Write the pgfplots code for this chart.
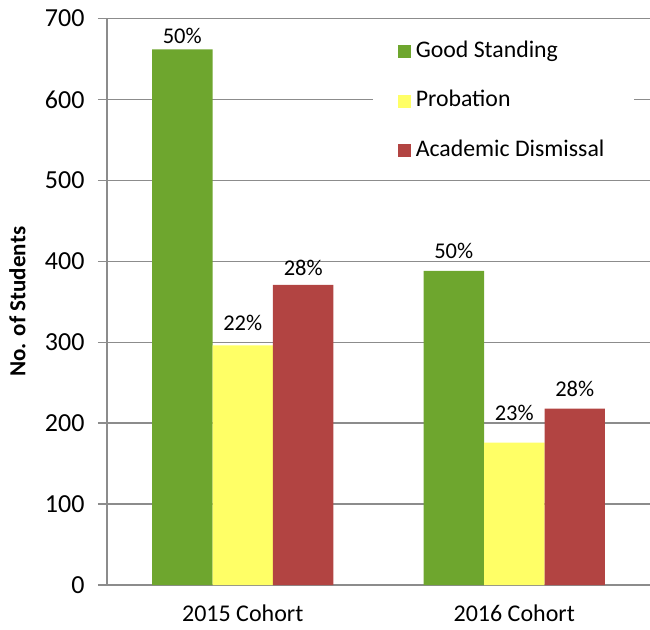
\documentclass[border=0pt]{standalone}
\usepackage{fontspec}
\setmainfont{Carlito}
\usepackage{pgfplots}
\pgfplotsset{compat=1.18}
\definecolor{cgreen}{HTML}{6EA62E}
\definecolor{cyellow}{HTML}{FFFF66}
\definecolor{cred}{HTML}{B24442}
\definecolor{cgrid}{HTML}{8C8C8C}
\begin{document}
\begin{tikzpicture}[x=1pt,y=1pt]
\useasboundingbox (-107,-44) rectangle (543,585);
\begin{axis}[
  at={(0,0)}, anchor=south west,
  scale only axis, width=543pt, height=566.5pt,
  ymin=0, ymax=700, ytick={0,100,...,700},
  xmin=-0.5, xmax=1.5, xtick={0,1}, xticklabels={2015 Cohort,2016 Cohort},
  ybar, bar width=0.2228,
  axis x line*=bottom, axis y line*=left,
  axis line style={cgrid, line width=1.3pt},
  ymajorgrids, grid style={cgrid, line width=1.3pt},
  tick align=outside, major tick length=9pt,
  major x tick style={draw=none},
  major y tick style={cgrid, line width=1.3pt},
  /pgf/number format/assume math mode=true,
  yticklabel style={font=\fontsize{26}{30}\selectfont, xshift=-10pt},
  xticklabel style={font=\fontsize{24}{28}\selectfont, yshift=-7pt},
  ylabel={No. of Students},
  ylabel style={font=\fontsize{23}{27}\selectfont\bfseries, at={(rel axis cs:0,0.5)}, anchor=south, yshift=78pt},
  point meta=explicit symbolic,
  visualization depends on={\thisrow{gap} \as \gap},
  nodes near coords={\pgfplotspointmeta\%},
  every node near coord/.append style={font=\fontsize{22.5}{26}\selectfont, anchor=south, inner sep=0pt, yshift=\gap*1pt},
  legend cell align=left,
  legend image code/.code={\fill[#1] (0pt,-6.5pt) rectangle (13pt,6.5pt);},
  legend style={at={(rel axis cs:0.49,0.974)}, anchor=north west, draw=none, fill=white,
    inner xsep=25pt, inner ysep=8pt, row sep=28.5pt,
    font=\fontsize{23.8}{28}\selectfont,
    nodes={inner xsep=4.5pt, inner ysep=0pt, text height=16pt, text depth=5pt}},
]
\addplot[fill=cgreen, draw=none, bar shift=-0.2228] table[x=x, y=y, meta=lab] {
x y lab gap
0 662 50 5.7
1 388 50 12.4
};
\addplot[fill=cyellow, draw=none, bar shift=0] table[x=x, y=y, meta=lab] {
x y lab gap
0 296 22 14.7
1 176 23 21.7
};
\addplot[fill=cred, draw=none, bar shift=0.2228] table[x=x, y=y, meta=lab] {
x y lab gap
0 371 28 9
1 218 28 11.3
};
\legend{Good Standing, Probation, Academic Dismissal}
\end{axis}
\end{tikzpicture}
\end{document}
